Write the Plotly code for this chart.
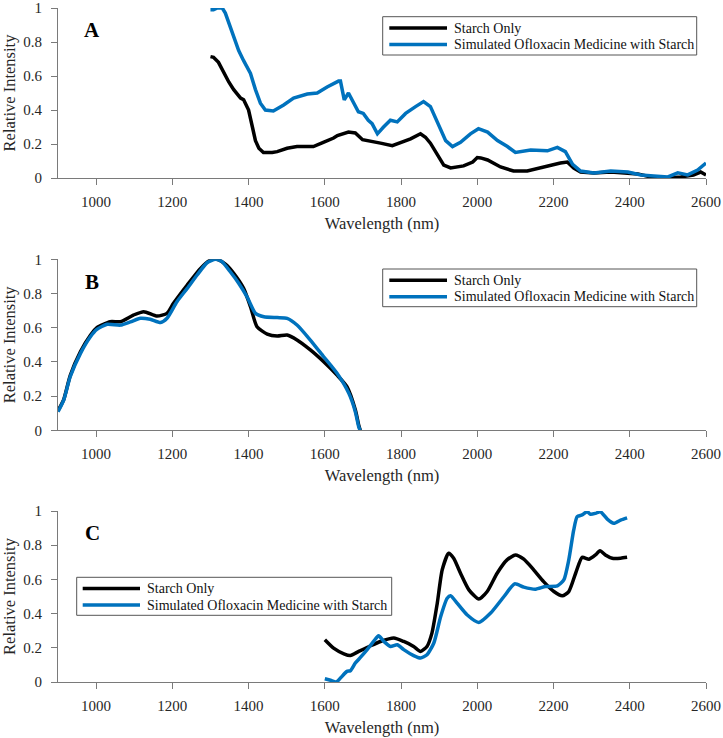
import plotly.graph_objects as go

# ---------------- data ----------------
a_starch_x = [1300, 1308, 1321, 1335, 1348, 1361, 1379, 1387, 1400, 1410, 1418, 1427, 1439, 1462, 1475,
              1501, 1527, 1570, 1588, 1596, 1623, 1633, 1662, 1680, 1699, 1720, 1746, 1777, 1799, 1825,
              1851, 1864, 1877, 1896, 1912, 1930, 1964, 1988, 2000, 2009, 2027, 2061, 2095, 2131, 2174,
              2218, 2236, 2253, 2271, 2306, 2350, 2395, 2421, 2455, 2500, 2534, 2567, 2586, 2600]
a_starch_y = [0.714, 0.71, 0.68, 0.62, 0.565, 0.52, 0.47, 0.46, 0.40, 0.30, 0.22, 0.175, 0.15, 0.15, 0.155,
              0.175, 0.185, 0.185, 0.20, 0.21, 0.235, 0.25, 0.27, 0.265, 0.225, 0.218, 0.205, 0.19, 0.21, 0.23,
              0.26, 0.24, 0.205, 0.135, 0.076, 0.059, 0.071, 0.094, 0.12, 0.118, 0.106, 0.065, 0.041, 0.041, 0.065,
              0.088, 0.094, 0.059, 0.035, 0.03, 0.035, 0.03, 0.024, 0.006, 0.0, 0.006, 0.018, 0.035, 0.018]

a_med_x = [1300, 1308, 1318, 1331, 1339, 1352, 1361, 1374, 1387, 1405, 1418, 1431, 1444, 1465, 1492,
           1518, 1554, 1580, 1606, 1636, 1641, 1646, 1651, 1662, 1675, 1688, 1701, 1714, 1724, 1738,
           1754, 1772, 1790, 1812, 1838, 1859, 1877, 1896, 1917, 1935, 1956, 1982, 2003, 2027, 2053,
           2079, 2100, 2140, 2184, 2210, 2231, 2250, 2271, 2306, 2350, 2395, 2429, 2463, 2500, 2526,
           2552, 2578, 2600]
a_med_y = [0.99, 0.99, 1.0, 1.0, 0.97, 0.89, 0.83, 0.75, 0.69, 0.615, 0.52, 0.44, 0.40, 0.394, 0.43,
           0.47, 0.494, 0.50, 0.535, 0.57, 0.57, 0.52, 0.46, 0.50, 0.44, 0.39, 0.38, 0.34, 0.32, 0.26,
           0.30, 0.34, 0.33, 0.38, 0.42, 0.45, 0.42, 0.32, 0.22, 0.185, 0.21, 0.26, 0.29, 0.27, 0.22,
           0.185, 0.15, 0.165, 0.16, 0.18, 0.155, 0.08, 0.041, 0.03, 0.041, 0.035, 0.018, 0.012, 0.006, 0.03,
           0.018, 0.047, 0.088]

b_starch_x = [900, 915, 932, 959, 985, 1002, 1037, 1064, 1098, 1125, 1160, 1186, 1203, 1239, 1274, 1300,
              1317, 1340, 1361, 1387, 1405, 1422, 1449, 1475, 1501, 1527, 1562, 1597, 1632, 1658, 1680,
              1689, 1693]
b_starch_y = [0.115, 0.18, 0.32, 0.46, 0.555, 0.60, 0.635, 0.635, 0.674, 0.694, 0.668, 0.684, 0.743, 0.85,
              0.947, 0.996, 1.0, 0.97, 0.918, 0.83, 0.723, 0.606, 0.563, 0.551, 0.557, 0.528, 0.47, 0.401,
              0.323, 0.255, 0.12, 0.03, 0.0]

b_med_x = [900, 915, 932, 959, 985, 1002, 1029, 1064, 1090, 1116, 1142, 1169, 1186, 1212, 1239, 1265,
           1291, 1313, 1330, 1352, 1374, 1396, 1418, 1440, 1475, 1501, 1527, 1562, 1597, 1632, 1663,
           1680, 1689, 1693]
b_med_y = [0.109, 0.177, 0.313, 0.45, 0.547, 0.59, 0.62, 0.615, 0.634, 0.655, 0.649, 0.63, 0.655, 0.752,
           0.83, 0.908, 0.98, 1.0, 0.986, 0.927, 0.86, 0.78, 0.684, 0.664, 0.659, 0.655, 0.616, 0.528,
           0.43, 0.333, 0.216, 0.109, 0.02, 0.0]

c_starch_x = [1600, 1623, 1650, 1667, 1689, 1720, 1746, 1781, 1807, 1833, 1851, 1868, 1881, 1895, 1908,
              1925, 1938, 1956, 1978, 2004, 2026, 2052, 2078, 2100, 2122, 2148, 2174, 2201, 2223, 2240,
              2258, 2275, 2293, 2310, 2322, 2336, 2354, 2376, 2393]
c_starch_y = [0.247, 0.198, 0.165, 0.155, 0.179, 0.212, 0.237, 0.257, 0.237, 0.208, 0.179, 0.208, 0.286,
              0.461, 0.656, 0.753, 0.724, 0.636, 0.539, 0.485, 0.529, 0.636, 0.714, 0.743, 0.718, 0.656,
              0.587, 0.529, 0.504, 0.529, 0.636, 0.729, 0.718, 0.743, 0.768, 0.743, 0.724, 0.724, 0.729]

c_med_x = [1600, 1615, 1630, 1641, 1658, 1667, 1680, 1694, 1711, 1728, 1741, 1755, 1772, 1790, 1807,
           1833, 1851, 1868, 1886, 1904, 1921, 1930, 1947, 1973, 2004, 2035, 2070, 2098, 2122, 2153,
           2179, 2210, 2227, 2240, 2253, 2262, 2275, 2288, 2297, 2310, 2323, 2341, 2358, 2376, 2393]
c_med_y = [0.019, 0.01, 0.0, 0.023, 0.062, 0.066, 0.111, 0.145, 0.189, 0.237, 0.27, 0.237, 0.208, 0.218,
           0.189, 0.154, 0.14, 0.159, 0.228, 0.383, 0.49, 0.504, 0.461, 0.393, 0.348, 0.403, 0.5, 0.574,
           0.555, 0.543, 0.558, 0.562, 0.597, 0.714, 0.889, 0.967, 0.977, 0.996, 0.981, 0.986, 0.996,
           0.953, 0.928, 0.947, 0.96]

series_names = ["Starch Only", "Simulated Ofloxacin Medicine with Starch"]
panel_labels = ["A", "B", "C"]
x_ticks = [1000, 1200, 1400, 1600, 1800, 2000, 2200, 2400, 2600]
y_ticks = [0, 0.2, 0.4, 0.6, 0.8, 1]
y_tick_text = ["0", "0.2", "0.4", "0.6", "0.8", "1"]

# ---------------- style ----------------
FONT = "Liberation Serif, Times New Roman, serif"
TXT = "#262626"
AXC = "#7a7a7a"
BLACK = "#000000"
BLUE = "#0072BD"
W, H = 723, 738
ML, MR, MT, MB = 58, 17, 8, 56
plot_w = W - ML - MR
plot_h = H - MT - MB

def px_x(px):
    return (px - ML) / plot_w

def px_y(py):
    return (H - MB - py) / plot_h

def ydom(top_px, bot_px):
    return [max(0, px_y(bot_px)), min(1, px_y(top_px))]

domains = [ydom(8, 178), ydom(259.3, 430.3), ydom(511, 682)]

fig = go.Figure()
panels = [
    (a_starch_x, a_starch_y, a_med_x, a_med_y, "linear"),
    (b_starch_x, b_starch_y, b_med_x, b_med_y, "spline"),
    (c_starch_x, c_starch_y, c_med_x, c_med_y, "spline"),
]
colors = [BLACK, BLUE]
for i, (sx, sy, mx, my, shape) in enumerate(panels):
    xa = "x" if i == 0 else f"x{i+1}"
    ya = "y" if i == 0 else f"y{i+1}"
    line_kw = dict(shape=shape)
    if shape == "spline":
        line_kw["smoothing"] = 0.6
    for j, (xx, yy) in enumerate([(sx, sy), (mx, my)]):
        fig.add_trace(go.Scatter(x=xx, y=yy, mode="lines", name=series_names[j],
                                 line=dict(color=colors[j], width=3.5, **line_kw),
                                 xaxis=xa, yaxis=ya, showlegend=False))

axis_common = dict(showline=True, linecolor=AXC, linewidth=1, ticks="outside", ticklen=6,
                   tickcolor=AXC, tickwidth=1, showgrid=False, zeroline=False, mirror=False,
                   tickfont=dict(family=FONT, size=15, color=TXT), automargin=False,
                   ticklabeloverflow="allow")

layout = dict(width=W, height=H, margin=dict(l=ML, r=MR, t=MT, b=MB),
              plot_bgcolor="white", paper_bgcolor="white",
              font=dict(family=FONT, color=TXT), showlegend=False)

for i in range(3):
    xk = "xaxis" if i == 0 else f"xaxis{i+1}"
    yk = "yaxis" if i == 0 else f"yaxis{i+1}"
    ya = "y" if i == 0 else f"y{i+1}"
    xa = "x" if i == 0 else f"x{i+1}"
    layout[xk] = dict(axis_common, domain=[0, 1], range=[900, 2600], anchor=ya,
                      tickvals=x_ticks, ticklabelstandoff=4,
                      title=dict(text="Wavelength (nm)", font=dict(family=FONT, size=16.5, color=TXT),
                                 standoff=8))
    layout[yk] = dict(axis_common, domain=domains[i], range=[0, 1], anchor=xa,
                      tickvals=y_ticks, ticktext=y_tick_text, ticklabelstandoff=6,
                      title=dict(text="Relative Intensity", font=dict(family=FONT, size=16.5, color=TXT),
                                 standoff=6))

fig.update_layout(**layout)

# legends (box, line samples, labels) positioned like the reference
legend_boxes = [  # left, right, top, bottom, sample_x0, sample_x1, text_x (pixels)
    (382.7, 696.7, 16.7, 55.0, 389.3, 447.0, 451.7),
    (382.7, 696.7, 269.0, 306.7, 389.3, 447.0, 451.7),
    (76.7, 391.7, 577.3, 615.3, 82.7, 140.0, 145.0),
]
for (l, r, t, b, s0, s1, tx) in legend_boxes:
    fig.add_shape(type="rect", xref="paper", yref="paper", x0=px_x(l), x1=px_x(r),
                  y0=px_y(b), y1=px_y(t), line=dict(color="#555555", width=1),
                  fillcolor="white", layer="above")
    for j, off in enumerate([11.3, 27.7]):
        yy = px_y(t + off)
        fig.add_shape(type="line", xref="paper", yref="paper", x0=px_x(s0), x1=px_x(s1),
                      y0=yy, y1=yy, line=dict(color=colors[j], width=3.5), layer="above")
        fig.add_annotation(xref="paper", yref="paper", x=px_x(tx), y=yy, text=series_names[j],
                           showarrow=False, xanchor="left", yanchor="middle",
                           font=dict(family=FONT, size=14, color="#111111"))

for i, lab in enumerate(panel_labels):
    xa = "x" if i == 0 else f"x{i+1}"
    ya = "y" if i == 0 else f"y{i+1}"
    fig.add_annotation(x=990, y=0.87, xref=xa, yref=ya, text=f"<b>{lab}</b>", showarrow=False,
                       font=dict(family=FONT, size=21, color=BLACK), xanchor="center", yanchor="middle")

fig.write_html("out.html", config={"displayModeBar": False},
               post_script="document.body.style.margin='0';document.body.style.overflow='hidden';")
